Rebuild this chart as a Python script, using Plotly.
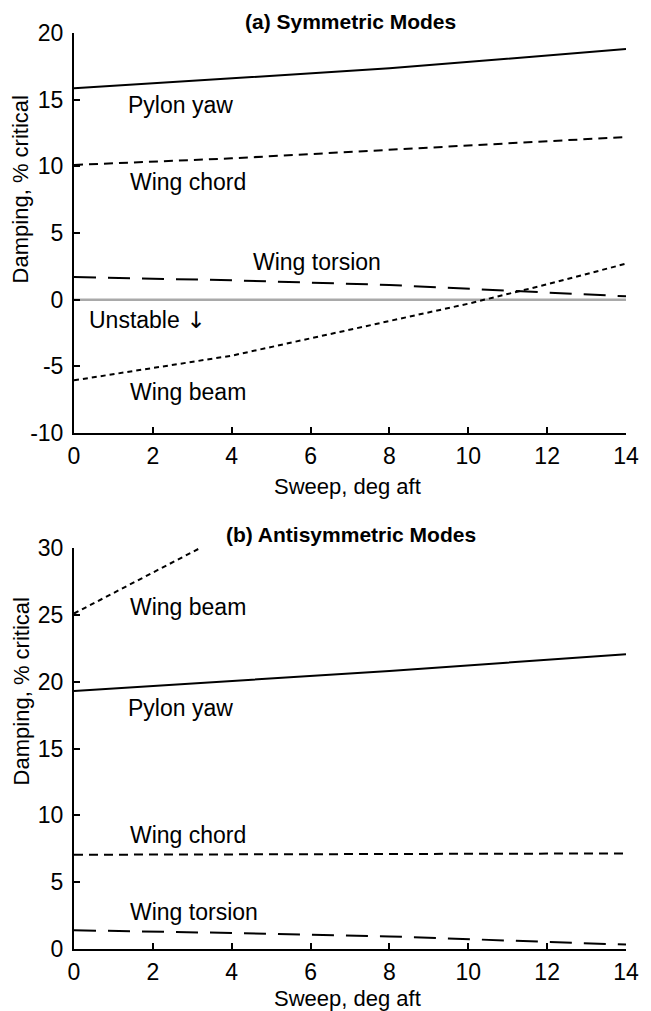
import plotly.graph_objects as go
from plotly.subplots import make_subplots

# ---- data ----
# (a) Symmetric modes
sym_pylon_x = [0, 4, 8, 14]
sym_pylon_y = [15.85, 16.6, 17.35, 18.8]
sym_chord_x = [0, 4, 14]
sym_chord_y = [10.1, 10.6, 12.2]
sym_torsion_x = [0, 4, 8, 12, 14]
sym_torsion_y = [1.7, 1.45, 1.1, 0.55, 0.25]
sym_beam_x = [0, 4, 8, 10, 12, 14]
sym_beam_y = [-6.05, -4.2, -1.6, -0.3, 1.15, 2.7]

# (b) Antisymmetric modes
anti_beam_x = [0, 3.2]
anti_beam_y = [25.1, 30]
anti_pylon_x = [0, 4, 8, 14]
anti_pylon_y = [19.3, 20.05, 20.8, 22.05]
anti_chord_x = [0, 14]
anti_chord_y = [7.05, 7.15]
anti_torsion_x = [0, 4, 8, 12, 14]
anti_torsion_y = [1.4, 1.2, 0.94, 0.52, 0.33]

x_ticks = [0, 2, 4, 6, 8, 10, 12, 14]
y_ticks_a = [-10, -5, 0, 5, 10, 15, 20]
y_ticks_b = [0, 5, 10, 15, 20, 25, 30]

FONT = "Liberation Sans, Arial, Helvetica, DejaVu Sans, sans-serif"
ARROW_FONT = "DejaVu Sans"
FS = 23

fig = make_subplots(rows=2, cols=1)

styles = {
    "pylon": dict(color="black", width=2, dash="solid"),
    "chord": dict(color="black", width=2, dash="9px,6px"),
    "torsion": dict(color="black", width=2, dash="22px,12px"),
    "beam": dict(color="black", width=2, dash="5px,4px"),
}

def add(x, y, kind, row):
    fig.add_trace(go.Scatter(x=x, y=y, mode="lines", line=styles[kind],
                             showlegend=False, hoverinfo="skip"), row=row, col=1)

# zero reference line (top panel)
fig.add_trace(go.Scatter(x=[x_ticks[0], x_ticks[-1]], y=[0, 0], mode="lines",
                         line=dict(color="#a9a9a9", width=2.5),
                         showlegend=False, hoverinfo="skip"), row=1, col=1)

add(sym_pylon_x, sym_pylon_y, "pylon", 1)
add(sym_chord_x, sym_chord_y, "chord", 1)
add(sym_torsion_x, sym_torsion_y, "torsion", 1)
add(sym_beam_x, sym_beam_y, "beam", 1)

add(anti_beam_x, anti_beam_y, "beam", 2)
add(anti_pylon_x, anti_pylon_y, "pylon", 2)
add(anti_chord_x, anti_chord_y, "chord", 2)
add(anti_torsion_x, anti_torsion_y, "torsion", 2)

axis_common = dict(showline=True, linecolor="black", linewidth=2,
                   ticks="inside", ticklen=6, tickwidth=2, tickcolor="black",
                   showgrid=False, zeroline=False,
                   tickfont=dict(family=FONT, size=FS, color="black"))

fig.update_xaxes(range=[0, 14], tickvals=x_ticks, ticktext=[str(v) for v in x_ticks],
                 ticklabelstandoff=1, **axis_common)
fig.update_yaxes(ticklabelstandoff=4, **axis_common)
fig.update_yaxes(range=[-10, 20], tickvals=y_ticks_a,
                 ticktext=[str(v) for v in y_ticks_a], row=1, col=1)
fig.update_yaxes(range=[0, 30], tickvals=y_ticks_b,
                 ticktext=[str(v) for v in y_ticks_b], row=2, col=1)

# plot areas: top 33..433 px, bottom 548..949 px (plot height 916)
fig.update_layout(
    yaxis=dict(domain=[(949 - 433) / 916, 1.0]),
    yaxis2=dict(domain=[0.0, (949 - 548) / 916]),
    xaxis=dict(anchor="y"),
    xaxis2=dict(anchor="y2"),
)

PW, PH = 556.0, 916.0

def px_x(p):
    return (p - 74) / PW

def px_y(p):
    return (949 - p) / PH

anns = []
def paper_text(text, x, y, size=FS, bold=False, angle=0):
    t = f"<b>{text}</b>" if bold else text
    anns.append(dict(text=t, x=px_x(x), y=px_y(y), xref="paper", yref="paper",
                     showarrow=False, xanchor="center", yanchor="middle",
                     textangle=angle, font=dict(family=FONT, size=size, color="black")))

def data_text(text, x, y, xr, yr):
    anns.append(dict(text=text, x=x, y=y, xref=xr, yref=yr, showarrow=False,
                     xanchor="left", yanchor="middle",
                     font=dict(family=FONT, size=FS, color="black")))

paper_text("(a) Symmetric Modes", 352, 21, size=21, bold=True)
paper_text("(b) Antisymmetric Modes", 353, 534, size=21, bold=True)
paper_text("Sweep, deg aft", 349, 486, size=22)
paper_text("Sweep, deg aft", 349, 998, size=22)
paper_text("Damping, % critical", 21, 189, size=22, angle=-90)
paper_text("Damping, % critical", 21, 691, size=22, angle=-90)

# curve labels (top panel)
data_text("Pylon yaw", 1.33, 14.6, "x", "y")
data_text("Wing chord", 1.36, 8.85, "x", "y")
data_text("Wing torsion", 4.48, 2.8, "x", "y")
data_text(f"Unstable <span style='font-family:{ARROW_FONT}'>\u2193</span>",
          0.33, -1.55, "x", "y")
data_text("Wing beam", 1.36, -6.95, "x", "y")
# curve labels (bottom panel)
data_text("Wing beam", 1.36, 25.55, "x2", "y2")
data_text("Pylon yaw", 1.33, 18.05, "x2", "y2")
data_text("Wing chord", 1.36, 8.55, "x2", "y2")
data_text("Wing torsion", 1.36, 2.75, "x2", "y2")

fig.update_layout(
    width=651, height=1011,
    margin=dict(l=74, r=21, t=33, b=62, pad=0),
    paper_bgcolor="white", plot_bgcolor="white",
    annotations=anns,
    font=dict(family=FONT, size=FS, color="black"),
)

fig.write_html("out.html", config={"displayModeBar": False},
               post_script="document.body.style.margin='0';document.body.style.overflow='hidden';")
